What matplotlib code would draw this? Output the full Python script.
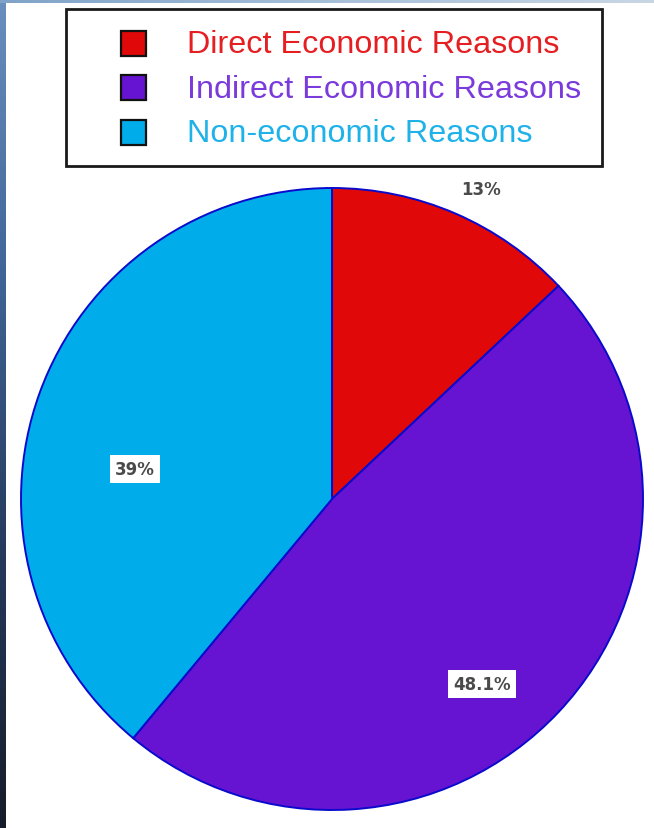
import numpy as np
import matplotlib
matplotlib.use("Agg")
import matplotlib.pyplot as plt
from matplotlib.patches import Rectangle
from matplotlib.colors import LinearSegmentedColormap

categories = ["Direct Economic Reasons", "Indirect Economic Reasons", "Non-economic Reasons"]
values = [13, 48.1, 39]
pct_labels = ["13%", "48.1%", "39%"]
slice_colors = ["#E00808", "#6614D2", "#00ADEA"]
text_colors = ["#E51E22", "#7A3ADC", "#1EB2E8"]
# label placement (angle in degrees, radius as fraction of pie radius, boxed)
label_place = [(64.3, 1.105, False), (-51.0, 0.765, True), (171.3, 0.64, True)]

W, H = 654, 829
fig = plt.figure(figsize=(W / 100, H / 100), dpi=100)
fig.patch.set_facecolor("white")

# slide background strips (left and top)
grad = np.linspace(0, 1, 256).reshape(-1, 1)
bg_left = fig.add_axes([0, 0, 6 / W, 1])
cm_left = LinearSegmentedColormap.from_list("l", ["#6a90bf", "#3f6496", "#263a5c", "#161c2a"])
bg_left.imshow(grad, aspect="auto", cmap=cm_left, extent=[0, 1, 0, 1], origin="upper")
bg_left.axis("off")
bg_top = fig.add_axes([0, 1 - 4 / H, 1, 4 / H])
cm_top = LinearSegmentedColormap.from_list("t", ["#7fa3c8", "#a6bfd8", "#c9d6e4"])
bg_top.imshow(grad.T, aspect="auto", cmap=cm_top, extent=[0, 1, 0, 1])
bg_top.axis("off")

R = 311
cx, cy = 332, 500
ax = fig.add_axes([(cx - R) / W, (H - cy - R) / H, 2 * R / W, 2 * R / H])
wedges, _ = ax.pie(values, colors=slice_colors, startangle=90, counterclock=False,
                   radius=1.0,
                   wedgeprops=dict(edgecolor="#0A0ACC", linewidth=1.4))
ax.set_xlim(-1, 1)
ax.set_ylim(-1, 1)
ax.set_aspect("equal")
ax.axis("off")

for lab, (ang, rr, boxed) in zip(pct_labels, label_place):
    a = np.deg2rad(ang)
    kw = dict(ha="center", va="center", fontsize=12, fontweight="bold",
              color="#4a4a4a", family="DejaVu Sans")
    if boxed:
        kw["bbox"] = dict(boxstyle="square,pad=0.3", facecolor="white", edgecolor="none")
    ax.text(rr * np.cos(a), rr * np.sin(a), lab, **kw)

# legend
lax = fig.add_axes([0, 0, 1, 1], facecolor="none")
lax.set_xlim(0, W)
lax.set_ylim(H, 0)
lax.axis("off")
lax.add_patch(Rectangle((66, 10), 536, 157, facecolor="white", edgecolor="#1a1a1a", linewidth=2))
for i, (cat, fc, tc) in enumerate(zip(categories, slice_colors, text_colors)):
    yc = 44 + i * 44.5
    lax.add_patch(Rectangle((121, yc - 12.5), 25, 25, facecolor=fc, edgecolor="#111111", linewidth=1.6))
    lax.text(187, yc + 1, cat, ha="left", va="center", fontsize=23.3, color=tc,
             family="Liberation Sans")

fig.savefig("out.png", dpi=100, facecolor="white")
